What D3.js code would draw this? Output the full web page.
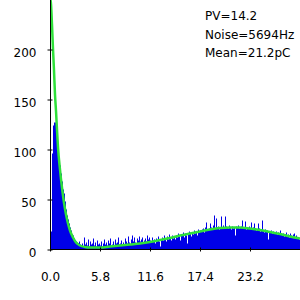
<!DOCTYPE html>
<html>
<head>
<meta charset="utf-8">
<script src="https://cdn.jsdelivr.net/npm/d3@7"></script>
<style>
  body { margin: 0; background: #fff; }
  text { font-family: "DejaVu Sans", sans-serif; font-size: 12px; }
</style>
</head>
<body>
<div id="chart"></div>
<script>
// histogram: charge (pC) per bin, counts per bin
const binWidth = 0.116;
const counts = [
  14, 18, 96, 124, 127, 127, 118, 108, 104, 92, 84, 76, 68, 60, 56, 48, 40, 34, 30, 26,
  22, 19, 15, 14, 11, 9, 8, 7, 6, 8,
  5, 4, 6, 3, 12, 5, 7, 4, 10, 3, 8, 5, 6, 11, 4, 7, 3, 9, 5, 6,
  4, 8, 3, 6, 10, 5, 7, 4, 9, 6, 11, 4, 5, 8, 3, 10, 6, 7, 12, 5,
  6, 9, 5, 7, 4, 11, 8, 6, 13, 7, 5, 10, 14, 8, 12, 7, 6, 11, 9, 13, 8, 10, 12, 7, 9, 11, 8, 14, 10, 12,
  9, 7, 12, 8, 10, 6, 11, 9, 13, 8, 3, 10, 12, 9, 14, 11, 8, 13, 10, 15, 12, 9, 14, 11, 13,
  10, 14, 12, 16, 13, 9, 15, 14, 17, 12, 16, 14, 6, 15, 18, 16, 13, 17, 15, 19, 16, 18, 14, 20, 17,
  19, 18, 20, 21, 17, 22, 27, 20, 19, 21, 26, 22, 20, 24, 34, 21, 31, 22, 23, 20, 21, 33, 22, 24, 21,
  33, 23, 22, 21, 24, 22, 20, 23, 21, 22, 14, 23, 22, 24, 21, 22, 23, 29, 22, 21, 28, 20, 22, 21, 23,
  21, 27, 20, 22, 26, 21, 19, 20, 26, 21, 18, 20, 29, 19, 17, 20, 18, 19, 10, 18, 17, 19, 16, 18, 17,
  16, 18, 15, 17, 16, 19, 15, 14, 16, 13, 15, 17, 14, 15, 12, 16, 14, 13, 15, 16, 12, 14, 11, 12, 10
];

// fitted curve, read at points along the x axis
const fitX = [0, 0.12, 0.23, 0.35, 0.46, 0.58, 0.7, 0.81, 0.93, 1.16, 1.39, 1.62, 1.86, 2.09, 2.32,
  2.67, 3.02, 3.48, 4.06, 4.64, 5.8, 6.96, 8.12, 9.28, 10.44, 11.6, 12.76, 13.92, 15.08, 16.24,
  17.4, 18.56, 19.72, 20.88, 22.04, 23.2, 24.36, 25.52, 26.68, 27.84, 29.0];
const fitY = [252, 245, 225, 200, 180, 155, 138, 120, 102, 80, 62, 47, 35, 26, 19,
  12, 7, 4, 2.5, 2, 2, 3, 4, 5, 6, 7.5, 9.5, 11.5, 14, 16,
  18, 20, 21.5, 22, 22, 21, 19.5, 17.5, 15.5, 13, 11];

const xTicks = [0, 5.8, 11.6, 17.4, 23.2];
const yTicks = [0, 50, 100, 150, 200];
const infoLines = ["PV=14.2", "Noise=5694Hz", "Mean=21.2pC"];

const W = 300, H = 300;
const margin = {top: 0, right: 0, bottom: 51, left: 50};

const svg = d3.select("#chart").append("svg")
    .attr("width", W)
    .attr("height", H);

const x = d3.scaleLinear().domain([0, 29]).range([margin.left, W - margin.right]);
const y = d3.scaleLinear().domain([0, 249]).range([H - margin.bottom + 0.5, 0.5]);

svg.append("clipPath").attr("id", "plot")
    .append("rect")
    .attr("x", margin.left).attr("y", 0)
    .attr("width", W - margin.left).attr("height", H - margin.bottom);

const plot = svg.append("g").attr("clip-path", "url(#plot)");

// bars
plot.selectAll(".bar")
    .data(counts)
    .enter()
    .append("rect")
    .attr("class", "bar")
    .attr("x", (d, i) => x(i * binWidth))
    .attr("width", (d, i) => x((i + 1) * binWidth) - x(i * binWidth))
    .attr("y", d => y(d))
    .attr("height", d => y(0) - y(d))
    .attr("fill", "#0000e8");

// fit line
const line = d3.line()
    .x((d, i) => x(fitX[i]))
    .y(d => y(d))
    .curve(d3.curveMonotoneX);

plot.append("path")
    .datum(fitY)
    .attr("d", line)
    .attr("fill", "none")
    .attr("stroke", "#2fe03a")
    .attr("stroke-width", 2.5);

// axes
const xAxis = svg.append("g")
    .attr("transform", `translate(0, ${y(0)})`)
    .call(d3.axisBottom(x).tickValues(xTicks).tickFormat(d3.format(".1f")).tickSizeOuter(0));
xAxis.select(".domain").attr("d", `M${margin.left},0H${W}`);
xAxis.selectAll(".tick line").attr("y1", -2).attr("y2", 2);
xAxis.selectAll(".tick text").attr("y", 31.5).attr("dy", null).attr("fill", "#000");

const yAxis = svg.append("g")
    .attr("transform", `translate(${margin.left + 0.5}, 0)`)
    .call(d3.axisLeft(y).tickValues(yTicks).tickSizeOuter(0));
yAxis.select(".domain").attr("d", `M0,0V${y(0)}`);
yAxis.selectAll(".tick line").attr("x1", -3).attr("x2", 2);
yAxis.selectAll(".tick text").attr("x", -14).attr("dy", null).attr("y", 7).attr("fill", "#000");

svg.selectAll("text.info")
    .data(infoLines)
    .enter()
    .append("text")
    .attr("class", "info")
    .attr("x", 205)
    .attr("y", (d, i) => 20 + i * 18.5)
    .text(d => d);
</script>
</body>
</html>
